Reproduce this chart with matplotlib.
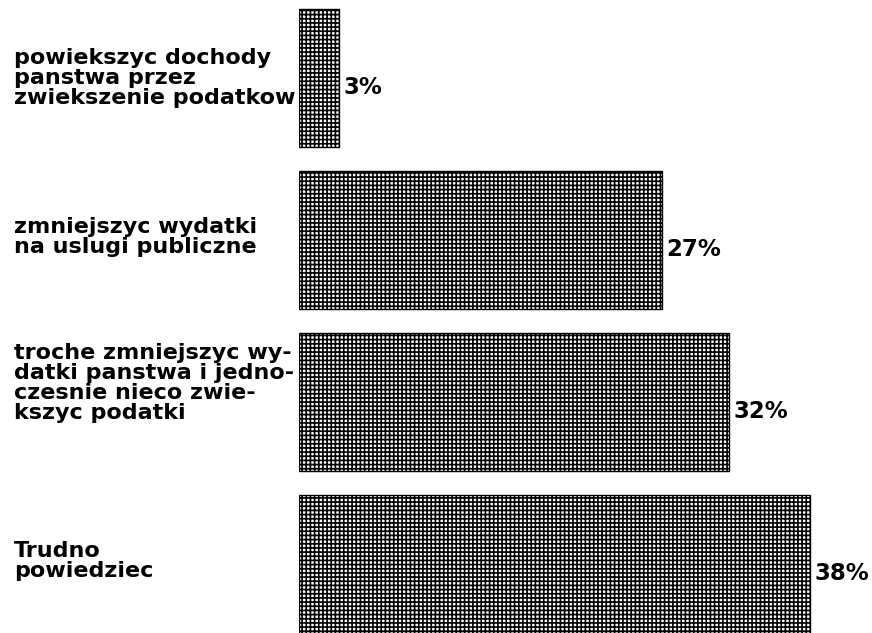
import matplotlib.pyplot as plt
from matplotlib.transforms import blended_transform_factory

categories = [
    "powiekszyc dochody\npanstwa przez\nzwiekszenie podatkow",
    "zmniejszyc wydatki\nna uslugi publiczne",
    "troche zmniejszyc wy-\ndatki panstwa i jedno-\nczesnie nieco zwie-\nkszyc podatki",
    "Trudno\npowiedziec",
]
values = [3, 27, 32, 38]
labels = ["3%", "27%", "32%", "38%"]

# vertical nudges of the category texts (data units)
label_shift = [0.0, -0.02, -0.12, -0.02]

plt.rcParams['hatch.linewidth'] = 1.2

fig = plt.figure(figsize=(8.72, 6.33), dpi=100)
ax = fig.add_axes([299 / 872, 0, 1 - 299 / 872, 1])

y = list(range(len(values)))
ax.barh(y, values, height=0.85, color="white", edgecolor="black",
        linewidth=1.0, hatch="++++")

ax.set_xlim(0, (872 - 299) / 13.45)
ax.set_ylim(3 + 69 / 162, -78 / 162)
ax.axis("off")

trans = blended_transform_factory(fig.transFigure, ax.transData)
for i, txt in enumerate(categories):
    ax.text(14 / 872, i + label_shift[i], txt, transform=trans, ha="left", va="center",
            fontsize=16, fontweight="bold", family="DejaVu Sans", linespacing=1.0)

for i, (v, lab) in enumerate(zip(values, labels)):
    ax.annotate(lab, (v, i + 0.06), xytext=(3, 0), textcoords="offset points",
                ha="left", va="center", fontsize=16.5, fontweight="bold",
                family="DejaVu Sans")

plt.savefig("out.png", dpi=100)
